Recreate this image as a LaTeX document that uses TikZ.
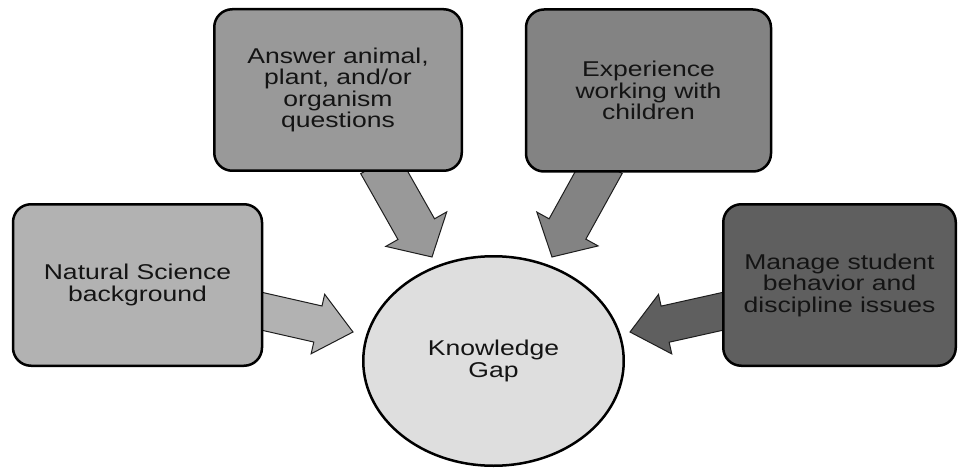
\documentclass[tikz,border=0pt]{standalone}
\usepackage{fontspec}
\setmainfont{Liberation Sans}[FakeStretch=1.24]
\usetikzlibrary{calc,shapes.geometric}
\definecolor{cA}{HTML}{B2B2B2}
\definecolor{cB}{HTML}{999999}
\definecolor{cC}{HTML}{838383}
\definecolor{cD}{HTML}{5F5F5F}
\definecolor{cK}{HTML}{DEDEDE}
\definecolor{txt}{HTML}{141414}
\definecolor{edge}{HTML}{1E1E1E}
\newcommand{\blockarrow}[6]{%
  \coordinate (hb) at ($(#2)!#5!(#1)$);
  \draw[#6] ($(#1)!#3!90:(#2)$) -- ($(hb)!#3!90:(#2)$) -- ($(hb)!#4!90:(#2)$) -- (#2)
    -- ($(hb)!#4!-90:(#2)$) -- ($(hb)!#3!-90:(#2)$) -- ($(#1)!#3!-90:(#2)$) -- cycle;
}
\tikzset{
  box/.style={draw=black, line width=2.5pt, rounded corners=18pt, inner sep=0pt,
    align=center, text=txt, font=\fontsize{21.4}{21.5}\selectfont},
  blk/.style={draw=edge, line width=1pt, line join=miter},
}
\begin{document}
\begin{tikzpicture}[x=1pt, y=-1pt]
\useasboundingbox (0,0) rectangle (959,468);
% anchor points for the block arrows
\coordinate (s1) at (253.2,309.3);
\coordinate (t1) at (353,332);
\coordinate (s2) at (379,163.3);
\coordinate (t2) at (432,257);
\coordinate (s3) at (603.8,163.3);
\coordinate (t3) at (552,257);
\coordinate (s4) at (731.8,309.3);
\coordinate (t4) at (630,332);
% arrows (drawn first, boxes cover their tails)
\blockarrow{s1}{t1}{18.5pt}{30.5pt}{36pt}{blk, fill=cA}
\blockarrow{s2}{t2}{21pt}{35pt}{32pt}{blk, fill=cB}
\blockarrow{s3}{t3}{21pt}{35pt}{32pt}{blk, fill=cC}
\blockarrow{s4}{t4}{18.5pt}{30.5pt}{36pt}{blk, fill=cD}
% boxes
\node[box, fill=cA, minimum width=249pt, minimum height=161.5pt] (n1) at (137.5,285)
  {Natural Science\\background};
\node[box, fill=cB, minimum width=247.5pt, minimum height=161.5pt] (n2) at (338,90)
  {Answer animal,\\plant, and/or\\organism\\questions};
\node[box, fill=cC, minimum width=245pt, minimum height=162pt] (n3) at (648.5,90.5)
  {Experience\\working with\\children};
\node[box, fill=cD, minimum width=232.5pt, minimum height=161.5pt] (n4) at (839.5,285)
  {Manage student\\behavior and\\discipline issues};
% central ellipse
\node[ellipse, draw=black, line width=2.5pt, fill=cK, minimum width=260.5pt,
  minimum height=209.5pt, inner sep=0pt, align=center, text=txt,
  font=\fontsize{21.4}{21.5}\selectfont] (kg) at (493.5,361) {Knowledge\\Gap};
\end{tikzpicture}
\end{document}
